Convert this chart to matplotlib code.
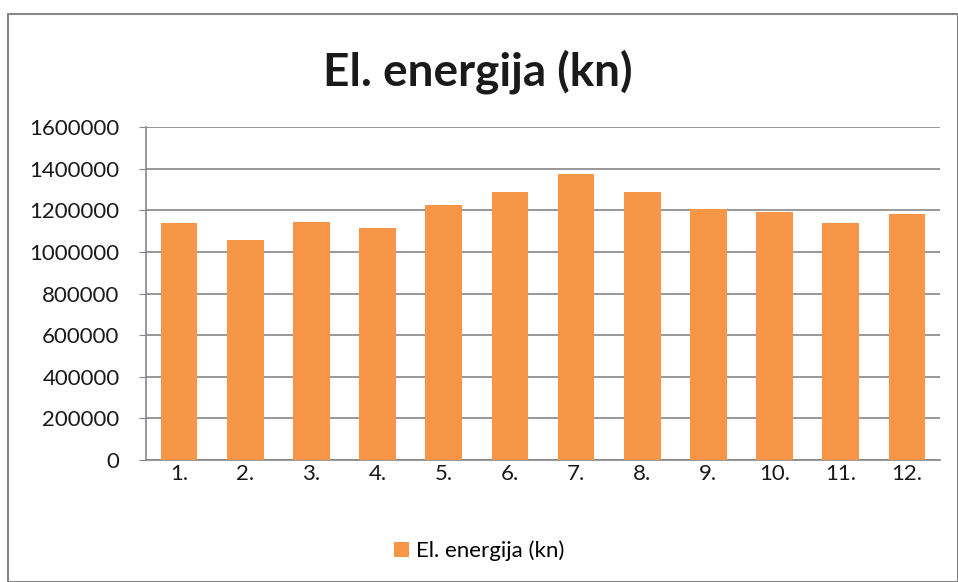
import matplotlib.pyplot as plt
from matplotlib.patches import Rectangle

plt.rcParams['font.family'] = ['Lato', 'DejaVu Sans']

months = ["1.", "2.", "3.", "4.", "5.", "6.", "7.", "8.", "9.", "10.", "11.", "12."]
energy = [1138800, 1055400, 1145500, 1116600, 1227400, 1285300,
          1374000, 1285300, 1204800, 1193700, 1137300, 1182200]
y_ticks = [0, 200000, 400000, 600000, 800000, 1000000, 1200000, 1400000, 1600000]

fig = plt.figure(figsize=(9.58, 5.82), dpi=100)
ax = fig.add_axes([146 / 958, 1 - 460 / 582, 794 / 958, 333 / 582])

x = list(range(len(months)))
ax.bar(x, energy, width=0.556, color="#F79646", label="El. energija (kn)", zorder=3)

ax.set_xlim(-0.5, len(months) - 0.5)
ax.set_ylim(0, 1600000)
ax.set_yticks(y_ticks)
ax.set_yticklabels([str(v) for v in y_ticks], fontsize=16, color="#1a1a1a")
ax.set_xticks(x)
ax.set_xticklabels(months, fontsize=16, color="#1a1a1a")
ax.grid(axis="y", color="#868686", linewidth=1.2, zorder=0)

for s in ["top", "right"]:
    ax.spines[s].set_visible(False)
for s in ["left", "bottom"]:
    ax.spines[s].set_color("#868686")
    ax.spines[s].set_linewidth(1.2)
ax.tick_params(axis="y", length=5, color="#868686", pad=14)
ax.tick_params(axis="x", length=0, pad=3)

fig.text(0.499, 1 - 72 / 582, "El. energija (kn)", ha="center", va="center",
         fontsize=33, fontweight="bold", color="#1a1a1a")

fig.legend(loc="center", bbox_to_anchor=(0.5, 1 - 551 / 582), frameon=False,
           fontsize=16, handlelength=0.7, handleheight=0.7, handletextpad=0.3)

fig.patches.append(Rectangle((8 / 958, 0), 950 / 958, 1 - 14 / 582, transform=fig.transFigure,
                             fill=False, edgecolor="#868686", linewidth=1.5))

fig.savefig("out.png", dpi=100)
